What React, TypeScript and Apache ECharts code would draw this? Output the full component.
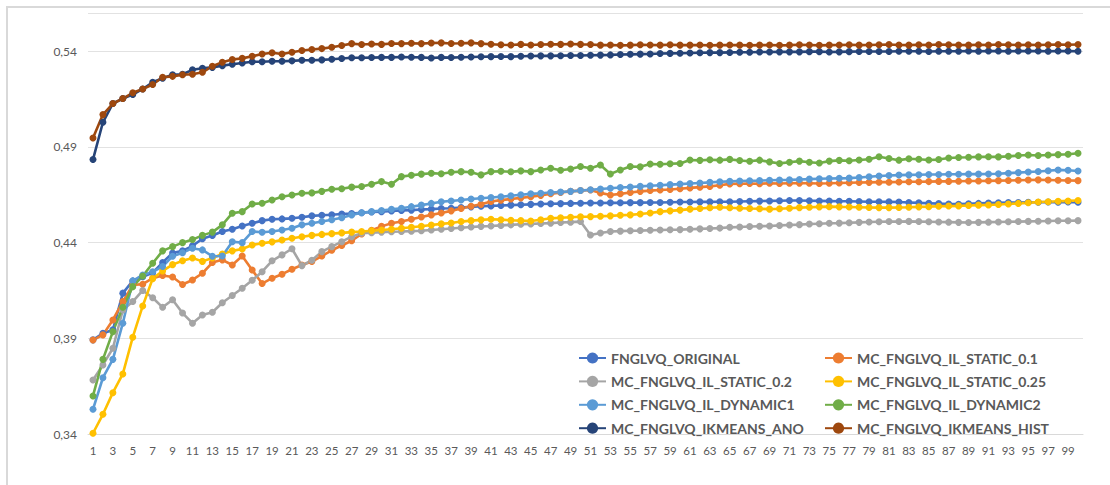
import React, { useEffect, useRef } from "react";
import * as echarts from "echarts";

const categories: string[] = Array.from({ length: 100 }, (_, i) => String(i + 1));

const seriesNames = [
  "FNGLVQ_ORIGINAL",
  "MC_FNGLVQ_IL_STATIC_0.1",
  "MC_FNGLVQ_IL_STATIC_0.2",
  "MC_FNGLVQ_IL_STATIC_0.25",
  "MC_FNGLVQ_IL_DYNAMIC1",
  "MC_FNGLVQ_IL_DYNAMIC2",
  "MC_FNGLVQ_IKMEANS_ANO",
  "MC_FNGLVQ_IKMEANS_HIST",
];

const seriesColors = ["#4472C4", "#ED7D31", "#A5A5A5", "#FFC000", "#5B9BD5", "#70AD47", "#264478", "#9E480E"];

const yTickLabels = ["0,34", "0,39", "0,44", "0,49", "0,54"];

const original = [
  0.3892, 0.3926, 0.3944, 0.4136, 0.42, 0.4222, 0.4243, 0.4296, 0.4346, 0.4357,
  0.4383, 0.442, 0.4437, 0.4458, 0.447, 0.4487, 0.4501, 0.4515, 0.4522, 0.4524,
  0.4527, 0.4533, 0.454, 0.4543, 0.4546, 0.455, 0.4552, 0.4556, 0.456, 0.4562,
  0.4565, 0.4568, 0.457, 0.4573, 0.4575, 0.4578, 0.458, 0.4584, 0.4587, 0.459,
  0.4592, 0.4594, 0.4596, 0.4598, 0.46, 0.4602, 0.4603, 0.4604, 0.4605, 0.4606,
  0.4607, 0.4607, 0.4608, 0.4608, 0.4609, 0.4609, 0.461, 0.461, 0.4611, 0.4612,
  0.4612, 0.4613, 0.4613, 0.4614, 0.4614, 0.4615, 0.4616, 0.4617, 0.4618, 0.4619,
  0.462, 0.462, 0.4619, 0.4618, 0.4617, 0.4616, 0.4616, 0.4615, 0.4614, 0.4614,
  0.4613, 0.4612, 0.461, 0.4608, 0.4606, 0.4604, 0.4602, 0.4601, 0.4603, 0.4605,
  0.4607, 0.4608, 0.4609, 0.461, 0.4611, 0.4611, 0.4612, 0.4611, 0.4612, 0.4611,
];

const static01 = [
  0.3891, 0.3918, 0.3996, 0.4092, 0.4179, 0.4183, 0.4214, 0.4228, 0.422, 0.4181,
  0.4205, 0.424, 0.4296, 0.431, 0.4283, 0.433, 0.4257, 0.4186, 0.4214, 0.4235,
  0.4261, 0.4283, 0.4301, 0.433, 0.436, 0.4385, 0.441, 0.4445, 0.4465, 0.4485,
  0.4501, 0.451, 0.4522, 0.4534, 0.4545, 0.4555, 0.4566, 0.4578, 0.459, 0.46,
  0.4615, 0.4622, 0.4628, 0.4634, 0.464, 0.4647, 0.4655, 0.4662, 0.4668, 0.4672,
  0.4675, 0.466, 0.4649, 0.4655, 0.4662, 0.4668, 0.4672, 0.4675, 0.4678, 0.4682,
  0.4686, 0.469, 0.4694, 0.47, 0.4707, 0.4708, 0.4709, 0.4708, 0.471, 0.4709,
  0.471, 0.4711, 0.471, 0.4709, 0.471, 0.4712, 0.4713, 0.4714, 0.4715, 0.4716,
  0.4716, 0.4717, 0.4718, 0.4718, 0.4719, 0.472, 0.472, 0.4721, 0.4722, 0.4722,
  0.4723, 0.4724, 0.4725, 0.4726, 0.4727, 0.4728, 0.4727, 0.4726, 0.4725, 0.4724,
];

const static02 = [
  0.3682, 0.3761, 0.3848, 0.4048, 0.4092, 0.415, 0.4112, 0.4062, 0.4102, 0.4032,
  0.3979, 0.4022, 0.4036, 0.4086, 0.4124, 0.4162, 0.4203, 0.4248, 0.4305, 0.4336,
  0.4368, 0.428, 0.4308, 0.4353, 0.4379, 0.4405, 0.4431, 0.4449, 0.4452, 0.4455,
  0.4457, 0.4458, 0.446, 0.4462, 0.4466, 0.447, 0.4474, 0.4478, 0.4482, 0.4485,
  0.4487, 0.449, 0.4493, 0.4496, 0.4498, 0.45, 0.4502, 0.4505, 0.4507, 0.451,
  0.444, 0.445, 0.4458, 0.446, 0.4462, 0.4463, 0.4465, 0.4466, 0.4467, 0.4468,
  0.447, 0.4472, 0.4474, 0.4476, 0.448, 0.4482, 0.4484, 0.4486, 0.4487, 0.449,
  0.4492, 0.4494, 0.4497, 0.4499, 0.4501, 0.4502, 0.4504, 0.4506, 0.4508, 0.4509,
  0.451, 0.451, 0.4511, 0.451, 0.4509, 0.4508, 0.4507, 0.4506, 0.4505, 0.4506,
  0.4507, 0.4508, 0.4509, 0.451, 0.4511, 0.4512, 0.4513, 0.4514, 0.4514, 0.4515,
];

const static025 = [
  0.3404, 0.3503, 0.3616, 0.3714, 0.3906, 0.4069, 0.4212, 0.4252, 0.4285, 0.4305,
  0.432, 0.4302, 0.432, 0.4341, 0.4357, 0.4367, 0.4388, 0.4397, 0.4404, 0.4414,
  0.4423, 0.4431, 0.4438, 0.4443, 0.4447, 0.4451, 0.4455, 0.4458, 0.4462, 0.4466,
  0.447, 0.4475, 0.448, 0.4486, 0.4492, 0.4498, 0.4503, 0.451, 0.4515, 0.4519,
  0.4522, 0.452, 0.4517, 0.4515, 0.4513, 0.452, 0.4527, 0.453, 0.4533, 0.4535,
  0.4536, 0.4538, 0.454, 0.4543, 0.4545, 0.455, 0.4555, 0.4562, 0.4566, 0.457,
  0.4575, 0.4578, 0.4582, 0.4585, 0.4582, 0.458, 0.4578, 0.4577, 0.4575, 0.4577,
  0.458, 0.4583, 0.4585, 0.4587, 0.4588, 0.4587, 0.4586, 0.4585, 0.4584, 0.4583,
  0.4583, 0.4584, 0.4585, 0.4587, 0.4588, 0.459, 0.4591, 0.4592, 0.4594, 0.4596,
  0.4597, 0.4599, 0.4602, 0.4605, 0.4608, 0.4612, 0.4614, 0.4616, 0.4618, 0.462,
];

const dynamic1 = [
  0.3529, 0.3694, 0.379, 0.3979, 0.42, 0.4231, 0.4248, 0.4275, 0.4329, 0.4347,
  0.4371, 0.4362, 0.4329, 0.433, 0.4405, 0.44, 0.4458, 0.4454, 0.4458, 0.4466,
  0.4475, 0.4493, 0.4501, 0.451, 0.452, 0.453, 0.4545, 0.4556, 0.4562, 0.4568,
  0.4574, 0.458, 0.4588, 0.4596, 0.4605, 0.4614, 0.4618, 0.4623, 0.4628, 0.4632,
  0.4636, 0.464, 0.4645, 0.465, 0.4655, 0.4658, 0.4662, 0.4665, 0.4668, 0.4672,
  0.4676, 0.468, 0.4684, 0.4688, 0.4691, 0.4694, 0.4697, 0.47, 0.4703, 0.4706,
  0.4709, 0.4712, 0.4715, 0.4718, 0.472, 0.4722, 0.4723, 0.4724, 0.4726, 0.4727,
  0.4728, 0.473, 0.4732, 0.4734, 0.4735, 0.4736, 0.4737, 0.474, 0.4744, 0.4748,
  0.4751, 0.4753, 0.4754, 0.4755, 0.4756, 0.4756, 0.4757, 0.4757, 0.4758, 0.4758,
  0.4759, 0.476, 0.4763, 0.4766, 0.4769, 0.4772, 0.4776, 0.478, 0.4778, 0.4774,
];

const dynamic2 = [
  0.3599, 0.379, 0.3935, 0.4062, 0.417, 0.4226, 0.4292, 0.4357, 0.4379, 0.44,
  0.4416, 0.4438, 0.4455, 0.4493, 0.4554, 0.4562, 0.4602, 0.4606, 0.4623, 0.464,
  0.4649, 0.4658, 0.466, 0.4668, 0.4679, 0.4682, 0.469, 0.4693, 0.4705, 0.4719,
  0.4705, 0.4745, 0.4752, 0.4758, 0.4763, 0.476, 0.4768, 0.4771, 0.4768, 0.4754,
  0.4771, 0.4773, 0.477, 0.4775, 0.4771, 0.478, 0.4789, 0.4778, 0.4785, 0.4798,
  0.4789, 0.4806, 0.4759, 0.478, 0.4798, 0.4796, 0.4811, 0.481, 0.4812, 0.4814,
  0.4832, 0.483, 0.4833, 0.4831, 0.4835, 0.4829, 0.4825, 0.4831, 0.4822, 0.4814,
  0.482, 0.4826, 0.482, 0.4816, 0.4826, 0.483, 0.4828, 0.4832, 0.4836, 0.4849,
  0.484, 0.4831, 0.4838, 0.4836, 0.4832, 0.4834, 0.4842, 0.4845, 0.4846, 0.4848,
  0.4849, 0.4848, 0.4851, 0.4855, 0.4858, 0.4855, 0.4858, 0.486, 0.4862, 0.4867,
];

const ikmeansAno = [
  0.4834, 0.5029, 0.5127, 0.5153, 0.5174, 0.5203, 0.5238, 0.5259, 0.5277, 0.528,
  0.5303, 0.5311, 0.5316, 0.5325, 0.5332, 0.5339, 0.5345, 0.5345, 0.5348, 0.5348,
  0.535, 0.5353, 0.5353, 0.5355, 0.5358, 0.5362, 0.5366, 0.5366, 0.5367, 0.5368,
  0.5368, 0.537, 0.5369, 0.5368, 0.5365, 0.5368, 0.5367, 0.5369, 0.537, 0.5371,
  0.5372, 0.5373, 0.5372, 0.5374, 0.5375, 0.5376, 0.5376, 0.5377, 0.5378, 0.5378,
  0.5379, 0.538, 0.5381, 0.5383, 0.5384, 0.5385, 0.5386, 0.5388, 0.5389, 0.539,
  0.5391, 0.5392, 0.5393, 0.5393, 0.5394, 0.5395, 0.5395, 0.5396, 0.5396, 0.5397,
  0.5397, 0.5397, 0.5398, 0.5398, 0.5396, 0.5397, 0.5398, 0.5399, 0.5399, 0.5399,
  0.5399, 0.54, 0.54, 0.54, 0.5399, 0.54, 0.54, 0.54, 0.5401, 0.54,
  0.5401, 0.5401, 0.54, 0.5401, 0.5401, 0.5401, 0.54, 0.5401, 0.5401, 0.54,
];

const ikmeansHist = [
  0.4947, 0.5069, 0.5127, 0.5153, 0.5183, 0.5203, 0.5226, 0.5264, 0.5269, 0.5277,
  0.528, 0.529, 0.5322, 0.5343, 0.5357, 0.5363, 0.5374, 0.5386, 0.5392, 0.5386,
  0.5395, 0.5404, 0.5409, 0.5414, 0.5421, 0.543, 0.544, 0.5435, 0.5438, 0.5436,
  0.5441, 0.544, 0.5442, 0.544, 0.5443, 0.5444, 0.5441, 0.5442, 0.5444, 0.544,
  0.5437, 0.5434, 0.5433, 0.5436, 0.5433, 0.5435, 0.5437, 0.5436, 0.5438, 0.5436,
  0.5435, 0.5432, 0.5433, 0.5431, 0.5432, 0.5434, 0.5433, 0.5432, 0.5434, 0.5432,
  0.5432, 0.5433, 0.5431, 0.5432, 0.5433, 0.5432, 0.5431, 0.5432, 0.5433, 0.5431,
  0.5432, 0.5434, 0.5433, 0.5431, 0.5432, 0.5433, 0.5434, 0.5432, 0.5433, 0.5434,
  0.5435, 0.5433, 0.5432, 0.5434, 0.5433, 0.5435, 0.5434, 0.5433, 0.5432, 0.5434,
  0.5433, 0.5435, 0.5434, 0.5433, 0.5434, 0.5433, 0.5434, 0.5435, 0.5434, 0.5435,
];

const seriesData = [original, static01, static02, static025, dynamic1, dynamic2, ikmeansAno, ikmeansHist];

const FONT = "Lato, 'Open Sans', sans-serif";

export default function App() {
  const ref = useRef<HTMLDivElement>(null);

  useEffect(() => {
    if (!ref.current) return;
    const chart = echarts.init(ref.current, null, { renderer: "svg" });
    const legendText = {
      color: "#595959",
      fontSize: 14,
      lineHeight: 14,
      fontWeight: "bold" as const,
      fontFamily: FONT,
    };
    chart.setOption({
      animation: false,
      backgroundColor: "#ffffff",
      textStyle: { fontFamily: FONT },
      graphic: [
        {
          type: "rect",
          shape: { x: 7, y: 7, width: 1300, height: 700 },
          style: { fill: "none", stroke: "#d9d9d9", lineWidth: 2 },
          silent: true,
        },
      ],
      grid: { left: 88, right: 27, top: 13, bottom: 51, containLabel: false },
      legend: [
        {
          orient: "vertical",
          left: 573,
          top: 346,
          itemWidth: 27,
          itemHeight: 14,
          itemGap: 9.4,
          textStyle: legendText,
          data: [seriesNames[0], seriesNames[2], seriesNames[4], seriesNames[6]],
        },
        {
          orient: "vertical",
          left: 819,
          top: 346,
          itemWidth: 27,
          itemHeight: 14,
          itemGap: 9.4,
          textStyle: legendText,
          data: [seriesNames[1], seriesNames[3], seriesNames[5], seriesNames[7]],
        },
      ],
      xAxis: {
        type: "category",
        data: categories,
        boundaryGap: true,
        axisTick: { show: false },
        axisLine: { lineStyle: { color: "#d9d9d9", width: 1 } },
        axisLabel: { interval: 1, color: "#595959", fontSize: 11.5, fontFamily: FONT, margin: 10 },
      },
      yAxis: {
        type: "value",
        min: 0.34,
        max: 0.56,
        interval: 0.05,
        axisLine: { show: false },
        axisTick: { show: false },
        splitLine: { lineStyle: { color: "#e2e2e2", width: 1 } },
        axisLabel: {
          color: "#595959",
          fontSize: 12,
          fontFamily: FONT,
          margin: 11,
          showMaxLabel: false,
          formatter: (v: number) => {
            const idx = Math.round((v - 0.34) / 0.05);
            const exact = Math.abs(v - (0.34 + idx * 0.05)) < 1e-6;
            return exact && yTickLabels[idx] ? yTickLabels[idx] : "";
          },
        },
      },
      series: seriesNames.map((name, i) => ({
        name,
        type: "line",
        data: seriesData[i],
        symbol: "circle",
        symbolSize: 7,
        showSymbol: true,
        showAllSymbol: true,
        color: seriesColors[i],
        lineStyle: { width: 2.6, color: seriesColors[i] },
        itemStyle: { color: seriesColors[i] },
      })),
    });
    return () => chart.dispose();
  }, []);

  return (
    <div
      ref={ref}
      style={{ position: "fixed", left: 0, top: 0, width: 1110, height: 485, background: "#fff" }}
    />
  );
}
